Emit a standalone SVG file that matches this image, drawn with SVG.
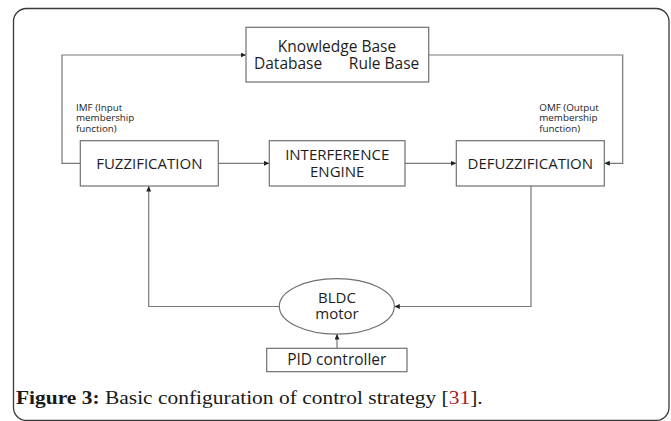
<svg xmlns="http://www.w3.org/2000/svg" width="671" height="421" viewBox="0 0 671 421">
<style>
.box{fill:#fff;stroke:#707070;stroke-width:1.2}
.lbl{font-family:"Open Sans","Liberation Sans",sans-serif;font-size:15px;fill:#1e1e1e}
.sm{font-family:"Open Sans","Liberation Sans",sans-serif;font-size:9.8px;fill:#222}
.conn path{fill:none;stroke:#787878;stroke-width:1.2}
.cap{font-family:"Liberation Serif","Times New Roman",serif;font-size:18.5px;fill:#1a1a1a}
</style>
<defs>
<marker id="ah" markerUnits="userSpaceOnUse" markerWidth="6" markerHeight="6" refX="5.5" refY="2.5" orient="auto">
<path d="M0,0 L5.5,2.5 L0,5 z" fill="#222"/>
</marker>
</defs>
<rect width="671" height="421" fill="#fff"/>
<rect id="frame" x="13.5" y="8.5" width="655.5" height="412" rx="13" fill="none" stroke="#3a3a3a" stroke-width="1.3"/>
<g class="conn" id="connectors">
<path d="M80.3,163.3 H62 V55 H246" marker-end="url(#ah)"/>
<path d="M428.7,55 H622.7 V163.3 H604.3" marker-end="url(#ah)"/>
<path d="M218.3,163.3 H269.3" marker-end="url(#ah)"/>
<path d="M405,163.3 H456.3" marker-end="url(#ah)"/>
<path d="M531,186 V306.5 H394.3" marker-end="url(#ah)"/>
<path d="M279.3,306.5 H148.7 V186" marker-end="url(#ah)"/>
<path d="M337,348.3 V334" marker-end="url(#ah)"/>
</g>
<g id="kb">
<rect class="box" x="246" y="27.3" width="182.7" height="54.7"/>
<text class="lbl" x="337" y="52" text-anchor="middle" style="font-size:15.5px">Knowledge Base</text>
<text class="lbl" x="254" y="68.6" style="font-size:15.5px">Database</text>
<text class="lbl" x="419.3" y="68.6" text-anchor="end" style="font-size:15.5px">Rule Base</text>
</g>
<g id="imf">
<text class="sm" x="76" y="110.5">IMF (Input</text>
<text class="sm" x="76" y="121.2">membership</text>
<text class="sm" x="76" y="131.9">function)</text>
</g>
<g id="omf">
<text class="sm" x="539.3" y="110.5">OMF (Output</text>
<text class="sm" x="539.3" y="121.2">membership</text>
<text class="sm" x="539.3" y="131.9">function)</text>
</g>
<g id="fuzzification">
<rect class="box" x="80.3" y="140.7" width="138" height="45.3"/>
<text class="lbl" x="149.3" y="168.7" text-anchor="middle">FUZZIFICATION</text>
</g>
<g id="interference">
<rect class="box" x="269.3" y="140.7" width="135.7" height="45.3"/>
<text class="lbl" x="337.2" y="160.3" text-anchor="middle">INTERFERENCE</text>
<text class="lbl" x="337.2" y="177" text-anchor="middle">ENGINE</text>
</g>
<g id="defuzzification">
<rect class="box" x="456.3" y="140.7" width="148" height="45.3"/>
<text class="lbl" x="530.3" y="168.7" text-anchor="middle">DEFUZZIFICATION</text>
</g>
<g id="motor">
<ellipse class="box" cx="336.8" cy="306.4" rx="57.5" ry="27.7"/>
<text class="lbl" x="337" y="303" text-anchor="middle">BLDC</text>
<text class="lbl" x="337" y="318.5" text-anchor="middle">motor</text>
</g>
<g id="pid">
<rect class="box" x="266.7" y="348.3" width="140.3" height="23.4"/>
<text class="lbl" x="336.8" y="365.3" text-anchor="middle" style="font-size:15.5px">PID controller</text>
</g>
<text class="cap" x="16" y="404" textLength="466.7" lengthAdjust="spacingAndGlyphs"><tspan font-weight="bold">Figure 3:</tspan> Basic configuration of control strategy [<tspan fill="#a61c22">31</tspan>].</text>
</svg>
